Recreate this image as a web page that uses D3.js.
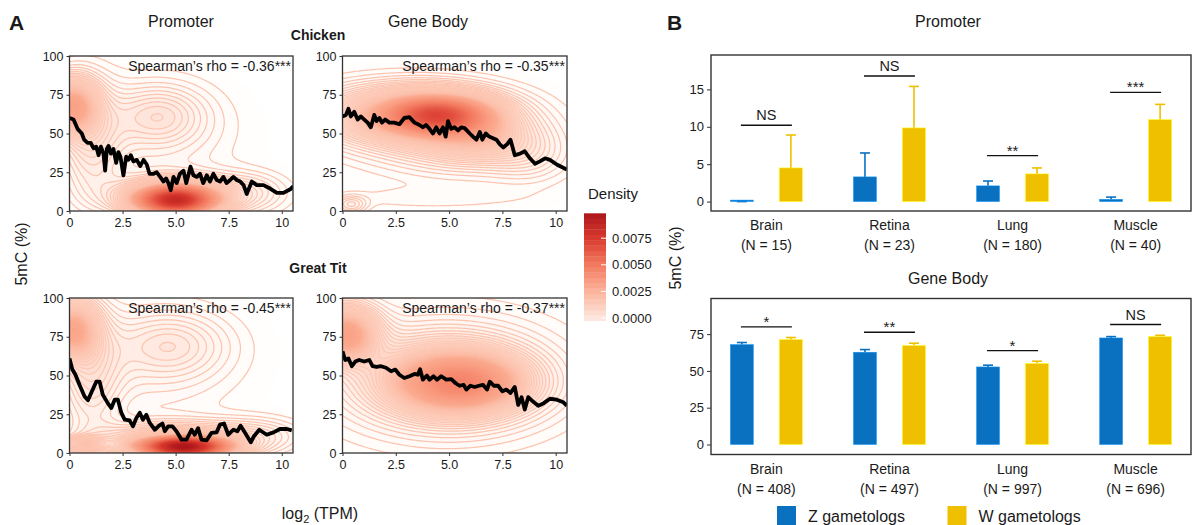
<!DOCTYPE html>
<html>
<head>
<meta charset="utf-8">
<script src="https://cdn.jsdelivr.net/npm/d3@7"></script>
<style>
    body { margin: 0; background: #fff; }
    text { font-family: "Liberation Sans", Arial, sans-serif; fill: #1a1a1a; }
</style>
</head>
<body>
<svg id="fig" width="1193" height="525"></svg>
<script>
// ---- panel A data: binned mean 5mC per log2(TPM)
const chickenPromoterTrend = [
    [0, 60], [0.19, 59], [0.38, 53], [0.58, 50], [0.69, 46], [0.85, 44], [1.0, 44], [1.13, 40.5],
    [1.26, 41.5], [1.37, 36], [1.48, 41.5], [1.6, 37], [1.68, 26], [1.76, 40], [1.84, 42], [1.95, 37],
    [2.07, 40], [2.2, 31], [2.3, 38], [2.4, 35], [2.54, 23], [2.67, 35], [2.78, 33], [2.89, 36],
    [3.01, 32], [3.17, 33], [3.33, 29], [3.49, 33], [3.64, 30], [3.77, 24], [3.96, 24], [4.11, 25],
    [4.27, 22], [4.43, 19], [4.55, 21], [4.66, 18], [4.77, 13.4], [4.9, 22], [5.05, 18], [5.2, 24],
    [5.37, 26], [5.5, 18], [5.6, 23], [5.7, 28.6], [5.84, 23], [6.0, 22], [6.15, 24], [6.3, 18],
    [6.47, 23], [6.62, 19], [6.78, 24], [6.94, 20], [7.1, 19], [7.25, 22], [7.4, 18], [7.57, 20],
    [7.72, 22], [7.88, 20], [8.04, 19], [8.2, 16.7], [8.35, 11], [8.59, 19], [8.82, 16.7], [9.14, 16.7],
    [9.45, 14.5], [9.77, 11.7], [10.08, 11.7], [10.4, 14], [10.55, 16]
];
const chickenBodyTrend = [
    [0, 61], [0.16, 62], [0.28, 66], [0.39, 61], [0.55, 64], [0.71, 59], [0.86, 61], [1.02, 59],
    [1.18, 57], [1.33, 54], [1.49, 62], [1.6, 58], [1.73, 60], [1.85, 57], [2.0, 59], [2.2, 57],
    [2.43, 57], [2.67, 56], [2.9, 60], [3.14, 60.5], [3.38, 57], [3.61, 55.5], [3.77, 54], [3.92, 55.5],
    [4.08, 53], [4.24, 50], [4.4, 54], [4.55, 50], [4.71, 54], [4.84, 48], [4.95, 58], [5.1, 53],
    [5.26, 54], [5.42, 52], [5.57, 54], [5.73, 53.5], [5.97, 50], [6.12, 48], [6.28, 46], [6.44, 51],
    [6.56, 46], [6.72, 50], [6.88, 48], [7.06, 47], [7.22, 46], [7.38, 43], [7.54, 41], [7.72, 43],
    [7.88, 46], [8.08, 36], [8.32, 37], [8.55, 38.5], [8.79, 34], [9.03, 30.5], [9.26, 32], [9.5, 34],
    [9.73, 33], [10.05, 30], [10.52, 26.7]
];
const titPromoterTrend = [
    [0, 61], [0.13, 54], [0.28, 50.5], [0.47, 44], [0.71, 36.5], [0.87, 34], [1.02, 38.7], [1.26, 46],
    [1.42, 46], [1.57, 37.6], [1.81, 32], [1.97, 29], [2.13, 34.4], [2.28, 34.4], [2.44, 26], [2.6, 21.5],
    [2.83, 21], [2.99, 17.2], [3.15, 22.6], [3.31, 26], [3.46, 21.5], [3.62, 24.7], [3.78, 19.4], [4.02, 15],
    [4.22, 17.6], [4.38, 19], [4.49, 14], [4.65, 17.2], [4.85, 17.2], [5.04, 14], [5.28, 8.6], [5.51, 8.6],
    [5.75, 15], [5.9, 11.8], [6.06, 16], [6.22, 8.6], [6.46, 8.2], [6.69, 13], [6.93, 13.3], [7.09, 18.3],
    [7.28, 19], [7.48, 11.8], [7.72, 15], [7.91, 14], [8.06, 17.6], [8.27, 13], [8.54, 6.9], [8.69, 10.8],
    [8.94, 15], [9.29, 11.8], [9.61, 13.3], [9.92, 15.5], [10.24, 15.5], [10.47, 14.6]
];
const titBodyTrend = [
    [0, 65.6], [0.13, 60], [0.28, 61], [0.44, 56], [0.6, 59], [0.78, 60], [1.02, 59], [1.26, 60],
    [1.41, 56], [1.6, 55.5], [1.81, 56], [2.04, 55], [2.28, 52.7], [2.48, 53.8], [2.67, 50.5], [2.9, 48.4],
    [3.14, 49.5], [3.38, 51], [3.53, 50.5], [3.64, 54], [3.77, 47.3], [3.96, 50], [4.08, 47.3], [4.27, 49.5],
    [4.43, 47.3], [4.63, 49.5], [4.87, 47.3], [5.1, 47.7], [5.31, 45], [5.49, 43.4], [5.68, 44], [5.81, 40.9],
    [6.0, 43.4], [6.2, 42.6], [6.4, 43.4], [6.59, 44], [6.78, 40.9], [6.91, 46], [7.1, 43.4], [7.3, 43.4],
    [7.5, 39.8], [7.69, 40.9], [7.88, 38.7], [8.08, 42.6], [8.24, 31], [8.4, 36], [8.55, 28], [8.71, 36],
    [8.95, 33], [9.18, 30.5], [9.42, 32], [9.73, 35], [10.05, 34.4], [10.36, 32.7], [10.52, 30.5]
];

// density blobs seen in the picture: [x, y, spread x, spread y, peak density]
const chickenPromoterBlobs = [
    [5.0, 7, 1.2, 6, 0.0072], [5.0, 10, 2.0, 9, 0.0014], [0.1, 68, 0.8, 12, 0.0026],
    [1.0, 45, 1.0, 26, 0.0008], [4.2, 62, 1.5, 13, 0.0007], [4.0, 50, 2.6, 24, 0.0004],
    [8.5, 12, 1.3, 9, 0.0005]
];
const chickenBodyBlobs = [
    [4.5, 62, 1.6, 8, 0.0048], [3.2, 62, 3.0, 13, 0.0022], [6.4, 47, 1.6, 10, 0.0010],
    [5.5, 42, 3.0, 15, 0.0006], [8.8, 35, 1.3, 12, 0.0004], [0.4, 4, 0.5, 4, 0.0006],
    [4.0, 8, 3.5, 5, 0.0002]
];
const titPromoterBlobs = [
    [5.4, 4, 1.3, 4, 0.0086], [5.0, 8, 2.6, 8, 0.0015], [0.15, 80, 0.8, 13, 0.0024],
    [1.0, 50, 1.0, 28, 0.0008], [4.8, 70, 1.8, 14, 0.0006], [4.0, 60, 2.8, 26, 0.0004],
    [0.7, 6, 0.6, 3, 0.0014], [9.0, 12, 1.5, 8, 0.0004]
];
const titBodyBlobs = [
    [0.15, 77, 1.0, 12, 0.0028], [5.6, 45, 1.9, 12, 0.0027], [4.8, 48, 3.0, 20, 0.0016],
    [5.0, 50, 4.5, 35, 0.0003]
];

const rhoLabels = ['-0.36', '-0.35', '-0.45', '-0.37'];
const tpmTicks = [0, 2.5, 5, 7.5, 10];
const mcTicks = [0, 25, 50, 75, 100];
const densityTicks = [0, 0.0025, 0.005, 0.0075];

// ---- panel B data
const tissues = ['Brain', 'Retina', 'Lung', 'Muscle'];
const promoterN = [15, 23, 180, 40];
const geneBodyN = [408, 497, 997, 696];

const promoterZ = [0.0, 3.3, 2.1, 0.3];
const promoterZErr = [0.0, 6.5, 2.75, 0.6];
const promoterW = [4.5, 9.85, 3.7, 10.95];
const promoterWErr = [8.9, 15.4, 4.5, 13.0];
const promoterSig = ['NS', 'NS', '**', '***'];
const promoterSigY = [10.2, 16.8, 6.15, 14.6];
const promoterTicks = [0, 5, 10, 15];

const bodyZ = [67.9, 62.7, 52.7, 72.4];
const bodyZErr = [69.3, 64.5, 53.9, 73.3];
const bodyW = [71.3, 67.2, 55.0, 73.3];
const bodyWErr = [72.7, 68.8, 56.6, 74.2];
const bodySig = ['*', '**', '*', 'NS'];
const bodySigY = [79.9, 76.3, 63.8, 81.5];
const bodyTicks = [0, 25, 50, 75];

const groups = ['Z gametologs', 'W gametologs'];

const blue = '#0a71c1';
const yellow = '#efc000';
const frameColor = '#333333';

const svg = d3.select('#fig');

// fill scale for density (near white at low density)
const densityColor = d3.scaleLinear()
    .domain([0, 0.0006, 0.0025, 0.005, 0.0075, 0.0098])
    .range(['#ffffff', '#fff2ec', '#fcad92', '#f37a5f', '#d93a2f', '#ad171b'])
    .clamp(true);

// the legend bar starts pale pink
const barColor = d3.scaleLinear()
    .domain([0, 0.0025, 0.005, 0.0075, 0.0098])
    .range(['#fde6dd', '#fbb49c', '#f37a5f', '#d93a2f', '#ad171b'])
    .clamp(true);

// contour lines fade out where the fill gets strong
const lineOpacity = d3.scaleLinear()
    .domain([0.0008, 0.0024])
    .range([1, 0.2])
    .clamp(true);

function drawDensityPanel(id, box, blobs, trend, rho) {
    const x = d3.scaleLinear().domain([0, 10.53]).range([box.x0, box.x1]);
    const y = d3.scaleLinear().domain([0, 100]).range([box.y1, box.y0]);

    // grid slightly larger than the panel, clipped later
    const nx = 150, ny = 140, gx0 = -0.6, gx1 = 11.1, gy0 = -6, gy1 = 106;
    const dx = (gx1 - gx0) / nx, dy = (gy1 - gy0) / ny;
    const values = new Array(nx * ny);
    for (let j = 0; j < ny; j++) {
        for (let i = 0; i < nx; i++) {
            const px = gx0 + (i + 0.5) * dx, py = gy0 + (j + 0.5) * dy;
            values[j * nx + i] = d3.sum(blobs, function (b) {
                return b[4] * Math.exp(-0.5 * Math.pow((px - b[0]) / b[2], 2) - 0.5 * Math.pow((py - b[1]) / b[3], 2));
            });
        }
    }

    const proj = d3.geoTransform({
        point: function (px, py) {
            this.stream.point(x(gx0 + px * dx), y(gy0 + py * dy));
        }
    });
    const path = d3.geoPath(proj);

    svg.append('clipPath')
        .attr('id', 'clip-' + id)
        .append('rect')
        .attr('x', box.x0).attr('y', box.y0)
        .attr('width', box.x1 - box.x0).attr('height', box.y1 - box.y0);

    const g = svg.append('g').attr('clip-path', 'url(#clip-' + id + ')');

    // filled bands
    const fillLevels = d3.range(0.00005, 0.0099, 0.0001);
    g.selectAll('path.band')
        .data(d3.contours().size([nx, ny]).thresholds(fillLevels)(values))
        .enter().append('path')
        .attr('class', 'band')
        .attr('d', path)
        .attr('fill', function (d) { return densityColor(d.value); })
        .attr('stroke', function (d) { return densityColor(d.value); })
        .attr('stroke-width', 0.4);

    // contour lines
    const lineLevels = d3.range(0.00015, 0.0025, 0.0001);
    g.selectAll('path.iso')
        .data(d3.contours().size([nx, ny]).thresholds(lineLevels)(values))
        .enter().append('path')
        .attr('class', 'iso')
        .attr('d', path)
        .attr('fill', 'none')
        .attr('stroke', '#fcc3ae')
        .attr('stroke-opacity', function (d) { return lineOpacity(d.value); })
        .attr('stroke-width', 1.2);

    // trend line
    g.append('path')
        .datum(trend)
        .attr('d', d3.line()
            .x(function (d) { return x(d[0]); })
            .y(function (d) { return y(d[1]); }))
        .attr('fill', 'none')
        .attr('stroke', '#000')
        .attr('stroke-width', 3.8)
        .attr('stroke-linejoin', 'round');

    // axes
    svg.append('g')
        .attr('transform', 'translate(0,' + box.y1 + ')')
        .call(d3.axisBottom(x).tickValues(tpmTicks)
            .tickFormat(function (d) { return (d === 0 || d === 10) ? String(d) : d.toFixed(1); })
            .tickSize(3).tickPadding(4))
        .call(styleAxis);

    svg.append('g')
        .attr('transform', 'translate(' + box.x0 + ',0)')
        .call(d3.axisLeft(y).tickValues(mcTicks).tickSize(3).tickPadding(3))
        .call(styleAxis);

    svg.append('rect')
        .attr('x', box.x0).attr('y', box.y0)
        .attr('width', box.x1 - box.x0).attr('height', box.y1 - box.y0)
        .attr('fill', 'none')
        .attr('stroke', frameColor)
        .attr('stroke-width', 1.3);

    svg.append('text')
        .attr('x', box.x1 - 2)
        .attr('y', box.y0 + 15)
        .attr('text-anchor', 'end')
        .attr('font-size', '14px')
        .text('Spearman\u2019s rho = ' + rho + '***');
}

function styleAxis(sel) {
    sel.select('.domain').remove();
    sel.selectAll('.tick line').attr('stroke', frameColor).attr('stroke-width', 1);
    sel.selectAll('.tick text')
        .attr('font-family', '"Liberation Sans", Arial, sans-serif')
        .attr('font-size', '12.5px')
        .attr('fill', '#222');
}

drawDensityPanel('tl', {x0: 69.5, x1: 293, y0: 56, y1: 211}, chickenPromoterBlobs, chickenPromoterTrend, rhoLabels[0]);
drawDensityPanel('tr', {x0: 342.5, x1: 567, y0: 56, y1: 211}, chickenBodyBlobs, chickenBodyTrend, rhoLabels[1]);
drawDensityPanel('bl', {x0: 69.5, x1: 293, y0: 298, y1: 453}, titPromoterBlobs, titPromoterTrend, rhoLabels[2]);
drawDensityPanel('br', {x0: 342.5, x1: 567, y0: 298, y1: 453}, titBodyBlobs, titBodyTrend, rhoLabels[3]);

// panel A labels
svg.append('text').attr('x', 9).attr('y', 30).attr('font-size', '21px').attr('font-weight', 'bold').text('A');
svg.append('text').attr('x', 181).attr('y', 27).attr('text-anchor', 'middle').attr('font-size', '16px').text('Promoter');
svg.append('text').attr('x', 428).attr('y', 27).attr('text-anchor', 'middle').attr('font-size', '16px').text('Gene Body');
svg.append('text').attr('x', 318).attr('y', 40).attr('text-anchor', 'middle').attr('font-size', '14px').attr('font-weight', 'bold').text('Chicken');
svg.append('text').attr('x', 318).attr('y', 273).attr('text-anchor', 'middle').attr('font-size', '14px').attr('font-weight', 'bold').text('Great Tit');

svg.append('text')
    .attr('transform', 'translate(27,254) rotate(-90)')
    .attr('text-anchor', 'middle')
    .attr('font-size', '16px')
    .text('5mC (%)');

const logLabel = svg.append('text')
    .attr('x', 320).attr('y', 519)
    .attr('text-anchor', 'middle')
    .attr('font-size', '16px');
logLabel.append('tspan').text('log');
logLabel.append('tspan').attr('font-size', '11px').attr('dy', 4).text('2');
logLabel.append('tspan').attr('dy', -4).text(' (TPM)');

// colour bar
const cbY = d3.scaleLinear().domain([-0.00025, 0.00984]).range([320.7, 213.3]);
const cbBins = d3.range(20).map(function (i) {
    return -0.00025 + (i + 0.5) * (0.00984 + 0.00025) / 20;
});
const cbStep = (320.7 - 213.3) / 20;
svg.append('g').selectAll('rect')
    .data(cbBins)
    .enter().append('rect')
    .attr('x', 584)
    .attr('y', function (d) { return cbY(d) - cbStep / 2; })
    .attr('width', 22)
    .attr('height', cbStep + 0.3)
    .attr('fill', function (d) { return barColor(d); });

svg.append('g').selectAll('line')
    .data(densityTicks)
    .enter().append('line')
    .attr('x1', 601).attr('x2', 606)
    .attr('y1', function (d) { return cbY(d); })
    .attr('y2', function (d) { return cbY(d); })
    .attr('stroke', '#fff').attr('stroke-width', 1);

svg.append('g').selectAll('text')
    .data(densityTicks)
    .enter().append('text')
    .attr('x', 612)
    .attr('y', function (d) { return cbY(d); })
    .attr('dy', '0.35em')
    .attr('font-size', '13px')
    .attr('fill', '#222')
    .text(function (d) { return d3.format('.4f')(d); });

svg.append('text').attr('x', 588).attr('y', 199).attr('font-size', '15px').text('Density');

// ---- panel B
const bx = d3.scalePoint().domain(tissues).range([711, 1191]).padding(0.45);
const dodge = 24.5, barW = 23, capW = 10;

function drawBarPanel(box, domain, ticks, zVals, zErr, wVals, wErr, sig, sigY, nVals, title, titleY) {
    const y = d3.scaleLinear().domain(domain).range([box.y1, box.y0]);

    svg.append('text')
        .attr('x', 948).attr('y', titleY)
        .attr('text-anchor', 'middle')
        .attr('font-size', '16px')
        .text(title);

    const series = [
        {vals: zVals, err: zErr, off: -dodge, color: blue},
        {vals: wVals, err: wErr, off: dodge, color: yellow}
    ];

    series.forEach(function (s) {
        const g = svg.append('g');
        // error bars (upper half only)
        g.selectAll('line.err')
            .data(tissues)
            .enter().append('line')
            .attr('x1', function (d) { return bx(d) + s.off; })
            .attr('x2', function (d) { return bx(d) + s.off; })
            .attr('y1', function (d, i) { return y(s.vals[i]); })
            .attr('y2', function (d, i) { return y(s.err[i]); })
            .attr('stroke', s.color).attr('stroke-width', 1.6);
        g.selectAll('line.cap')
            .data(tissues)
            .enter().append('line')
            .attr('x1', function (d) { return bx(d) + s.off - capW / 2; })
            .attr('x2', function (d) { return bx(d) + s.off + capW / 2; })
            .attr('y1', function (d, i) { return y(s.err[i]); })
            .attr('y2', function (d, i) { return y(s.err[i]); })
            .attr('stroke', s.color).attr('stroke-width', 1.6);
        g.selectAll('rect')
            .data(tissues)
            .enter().append('rect')
            .attr('x', function (d) { return bx(d) + s.off - barW / 2; })
            .attr('width', barW)
            .attr('y', function (d, i) { return Math.min(y(s.vals[i]), y(0) - 1.5); })
            .attr('height', function (d, i) { return Math.max(y(0) - y(s.vals[i]), 1.5); })
            .attr('fill', s.color)
            .attr('stroke', d3.color(s.color).brighter(0.8))
            .attr('stroke-width', 0.5);
    });

    // significance brackets
    const sg = svg.append('g');
    sg.selectAll('line')
        .data(tissues)
        .enter().append('line')
        .attr('x1', function (d) { return bx(d) - dodge - 1; })
        .attr('x2', function (d) { return bx(d) + dodge + 1; })
        .attr('y1', function (d, i) { return y(sigY[i]); })
        .attr('y2', function (d, i) { return y(sigY[i]); })
        .attr('stroke', '#111').attr('stroke-width', 1.4);
    sg.selectAll('text')
        .data(tissues)
        .enter().append('text')
        .attr('x', function (d) { return bx(d); })
        .attr('y', function (d, i) { return y(sigY[i]) - (sig[i] === 'NS' ? 5 : 0); })
        .attr('text-anchor', 'middle')
        .attr('font-size', function (d, i) { return sig[i] === 'NS' ? '14.5px' : '15px'; })
        .text(function (d, i) { return sig[i]; });

    svg.append('g')
        .attr('transform', 'translate(' + box.x0 + ',0)')
        .call(d3.axisLeft(y).tickValues(ticks).tickSize(4).tickPadding(3))
        .call(styleAxis)
        .selectAll('.tick text').attr('font-size', '13px');

    svg.append('rect')
        .attr('x', box.x0).attr('y', box.y0)
        .attr('width', box.x1 - box.x0).attr('height', box.y1 - box.y0)
        .attr('fill', 'none')
        .attr('stroke', frameColor)
        .attr('stroke-width', 1.4);

    // category labels
    const lab = svg.append('g').selectAll('text')
        .data(tissues)
        .enter().append('text')
        .attr('x', function (d) { return bx(d); })
        .attr('text-anchor', 'middle')
        .attr('font-size', '14px');
    lab.append('tspan')
        .attr('x', function (d) { return bx(d); })
        .attr('y', box.y1 + 19)
        .text(function (d) { return d; });
    lab.append('tspan')
        .attr('x', function (d) { return bx(d); })
        .attr('y', box.y1 + 39)
        .text(function (d, i) { return '(N = ' + nVals[i] + ')'; });
}

drawBarPanel({x0: 711, x1: 1191, y0: 55, y1: 211}, [-1.26, 19.6], promoterTicks,
    promoterZ, promoterZErr, promoterW, promoterWErr, promoterSig, promoterSigY, promoterN, 'Promoter', 27);
drawBarPanel({x0: 711, x1: 1191, y0: 298.5, y1: 454.5}, [-6.8, 99.2], bodyTicks,
    bodyZ, bodyZErr, bodyW, bodyWErr, bodySig, bodySigY, geneBodyN, 'Gene Body', 284);

svg.append('text').attr('x', 667).attr('y', 30).attr('font-size', '21px').attr('font-weight', 'bold').text('B');

svg.append('text')
    .attr('transform', 'translate(681,258) rotate(-90)')
    .attr('text-anchor', 'middle')
    .attr('font-size', '16px')
    .text('5mC (%)');

// legend
const legend = svg.append('g').selectAll('g')
    .data(groups)
    .enter().append('g')
    .attr('transform', function (d, i) { return 'translate(' + (777 + i * 170.5) + ',0)'; });
legend.append('rect')
    .attr('x', 0).attr('y', 506)
    .attr('width', 19).attr('height', 19)
    .attr('fill', function (d, i) { return i === 0 ? blue : yellow; });
legend.append('text')
    .attr('x', 31).attr('y', 522)
    .attr('font-size', '16px')
    .text(function (d) { return d; });
</script>
</body>
</html>
